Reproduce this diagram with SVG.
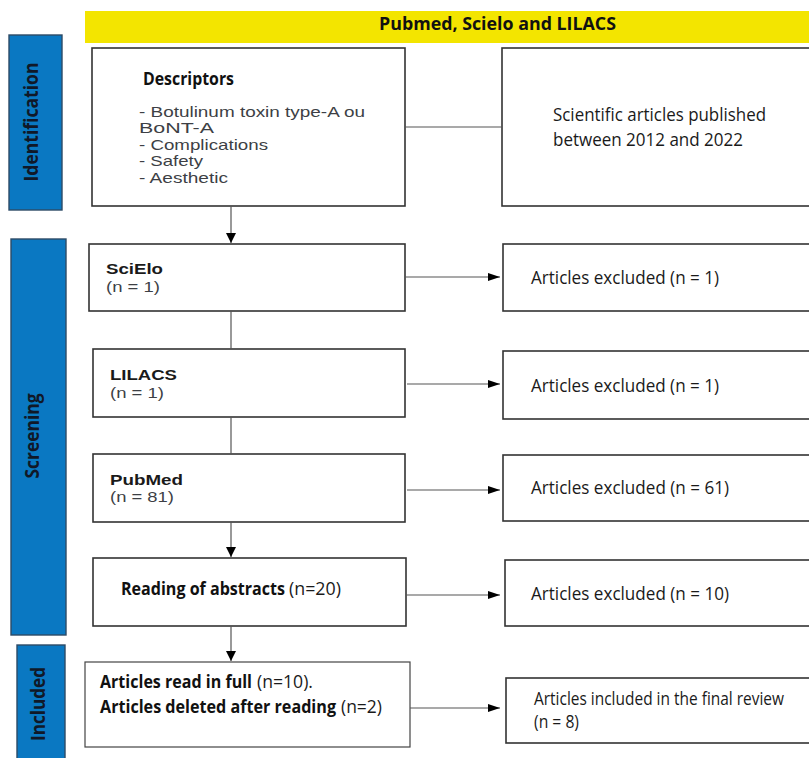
<svg xmlns="http://www.w3.org/2000/svg" width="809" height="758" viewBox="0 0 809 758">
<style>
.box{fill:#fff;stroke:#333;stroke-width:1.6}
.side{fill:#0a78c2;stroke:#2d4a66;stroke-width:1.4}
.cal{font-family:"Open Sans","Lato",sans-serif;font-size:17.5px;fill:#1a1a1a}
.calb{font-family:"Open Sans","Lato",sans-serif;font-size:17.5px;font-weight:bold;fill:#111}
.ar{font-family:"Liberation Sans",Arial,sans-serif;font-size:15px;fill:#3d3f45}
.arb{font-family:"Liberation Sans",Arial,sans-serif;font-size:14px;font-weight:bold;fill:#1a1a1a}
.lab{font-family:"Open Sans","Lato",sans-serif;font-size:16px;font-weight:bold;fill:#101828}
.conn{stroke:#555;stroke-width:1.2;fill:none}
</style>
<defs>
<marker id="arrH" markerUnits="userSpaceOnUse" markerWidth="12" markerHeight="8" refX="12" refY="4" orient="auto"><path d="M0,0 L12,4 L0,8 z" fill="#000"/></marker>
<marker id="arrV" markerUnits="userSpaceOnUse" markerWidth="10" markerHeight="10" refX="10" refY="5" orient="auto"><path d="M0,0 L10,5 L0,10 z" fill="#000"/></marker>
</defs>

<g id="title">
<rect x="85" y="11" width="730" height="32" fill="#f3e500"/>
<text class="calb" x="379" y="29.5" font-size="18.5" textLength="237" lengthAdjust="spacingAndGlyphs">Pubmed, Scielo and LILACS</text>
</g>

<g id="label-identification">
<rect class="side" x="9" y="35" width="53" height="175"/>
<text class="lab" text-anchor="middle" transform="translate(37.5,122) scale(1.2,1) rotate(-90)" textLength="119" lengthAdjust="spacingAndGlyphs">Identification</text>
</g>
<g id="label-screening">
<rect class="side" x="11" y="239" width="55" height="396"/>
<text class="lab" text-anchor="middle" transform="translate(39,436) scale(1.2,1) rotate(-90)" textLength="85" lengthAdjust="spacingAndGlyphs">Screening</text>
</g>
<g id="label-included">
<rect class="side" x="17" y="645" width="48" height="120"/>
<text class="lab" text-anchor="middle" transform="translate(45,704) scale(1.2,1) rotate(-90)" textLength="74" lengthAdjust="spacingAndGlyphs">Included</text>
</g>

<g id="descriptors">
<rect class="box" x="92" y="48" width="313" height="158"/>
<text class="calb" x="143" y="85" font-size="17" textLength="91" lengthAdjust="spacingAndGlyphs">Descriptors</text>
<text class="ar" x="139" y="116.5" textLength="226" lengthAdjust="spacingAndGlyphs">- Botulinum toxin type-A ou</text>
<text class="ar" x="139" y="133" textLength="75" lengthAdjust="spacingAndGlyphs">BoNT-A</text>
<text class="ar" x="139" y="149.5" textLength="129" lengthAdjust="spacingAndGlyphs">- Complications</text>
<text class="ar" x="139" y="166" textLength="64" lengthAdjust="spacingAndGlyphs">- Safety</text>
<text class="ar" x="139" y="182.5" textLength="89" lengthAdjust="spacingAndGlyphs">- Aesthetic</text>
</g>

<g id="period">
<rect class="box" x="502" y="48" width="315" height="158"/>
<text class="cal" x="553" y="121" font-size="16.5" textLength="213" lengthAdjust="spacingAndGlyphs">Scientific articles published</text>
<text class="cal" x="553" y="146" font-size="16.5" textLength="190" lengthAdjust="spacingAndGlyphs">between 2012 and 2022</text>
</g>

<g id="scielo">
<rect class="box" x="89" y="244" width="316" height="67"/>
<text class="arb" x="106" y="274" textLength="57" lengthAdjust="spacingAndGlyphs">SciElo</text>
<text class="ar" x="106" y="292" font-size="14" textLength="54" lengthAdjust="spacingAndGlyphs">(n = 1)</text>
</g>
<g id="lilacs">
<rect class="box" x="93" y="349" width="312" height="68"/>
<text class="arb" x="110" y="380" textLength="67" lengthAdjust="spacingAndGlyphs">LILACS</text>
<text class="ar" x="110" y="398" font-size="14" textLength="54" lengthAdjust="spacingAndGlyphs">(n = 1)</text>
</g>
<g id="pubmed">
<rect class="box" x="93" y="454" width="312" height="68"/>
<text class="arb" x="110" y="485" textLength="73" lengthAdjust="spacingAndGlyphs">PubMed</text>
<text class="ar" x="110" y="502" font-size="14" textLength="64" lengthAdjust="spacingAndGlyphs">(n = 81)</text>
</g>

<g id="excl-scielo">
<rect class="box" x="503" y="244" width="315" height="67"/>
<text class="cal" x="531" y="284" textLength="188" lengthAdjust="spacingAndGlyphs">Articles excluded (n = 1)</text>
</g>
<g id="excl-lilacs">
<rect class="box" x="503" y="351" width="315" height="68"/>
<text class="cal" x="531" y="391.5" textLength="188" lengthAdjust="spacingAndGlyphs">Articles excluded (n = 1)</text>
</g>
<g id="excl-pubmed">
<rect class="box" x="503" y="455" width="315" height="66"/>
<text class="cal" x="531" y="494" textLength="198" lengthAdjust="spacingAndGlyphs">Articles excluded (n = 61)</text>
</g>

<g id="abstracts">
<rect class="box" x="93" y="558" width="313" height="68"/>
<text class="calb" x="121" y="595" textLength="164" lengthAdjust="spacingAndGlyphs">Reading of abstracts</text>
<text class="cal" x="289" y="595" textLength="52" lengthAdjust="spacingAndGlyphs">(n=20)</text>
</g>
<g id="excl-abstracts">
<rect class="box" x="505" y="560" width="315" height="66"/>
<text class="cal" x="531" y="600" textLength="198" lengthAdjust="spacingAndGlyphs">Articles excluded (n = 10)</text>
</g>

<g id="fulltext">
<rect x="85" y="662" width="325" height="85" fill="#fff" stroke="#444" stroke-width="1.2"/>
<text class="calb" x="100" y="688" textLength="152" lengthAdjust="spacingAndGlyphs">Articles read in full</text>
<text class="cal" x="257" y="688" textLength="56" lengthAdjust="spacingAndGlyphs">(n=10).</text>
<text class="calb" x="100" y="713" textLength="236" lengthAdjust="spacingAndGlyphs">Articles deleted after reading</text>
<text class="cal" x="341" y="713" textLength="41" lengthAdjust="spacingAndGlyphs">(n=2)</text>
</g>
<g id="final">
<rect class="box" x="506" y="678" width="315" height="65"/>
<text class="cal" x="534" y="705" font-size="14.5" textLength="250" lengthAdjust="spacingAndGlyphs">Articles included in the final review</text>
<text class="cal" x="534" y="728" font-size="14.5" textLength="45" lengthAdjust="spacingAndGlyphs">(n = 8)</text>
</g>

<g id="connectors">
<line class="conn" x1="405" y1="127" x2="502" y2="127"/>
<line class="conn" x1="231" y1="206" x2="231" y2="243" marker-end="url(#arrV)"/>
<line class="conn" x1="231" y1="311" x2="231" y2="349"/>
<line class="conn" x1="231" y1="417" x2="231" y2="454"/>
<line class="conn" x1="231" y1="522" x2="231" y2="557" marker-end="url(#arrV)"/>
<line class="conn" x1="231" y1="626" x2="231" y2="661" marker-end="url(#arrV)"/>
<line class="conn" x1="405" y1="277" x2="500" y2="277" marker-end="url(#arrH)"/>
<line class="conn" x1="407" y1="384" x2="500" y2="384" marker-end="url(#arrH)"/>
<line class="conn" x1="407" y1="490" x2="500" y2="490" marker-end="url(#arrH)"/>
<line class="conn" x1="406" y1="595" x2="500" y2="595" marker-end="url(#arrH)"/>
<line class="conn" x1="410" y1="708" x2="500" y2="708" marker-end="url(#arrH)"/>
</g>
</svg>
